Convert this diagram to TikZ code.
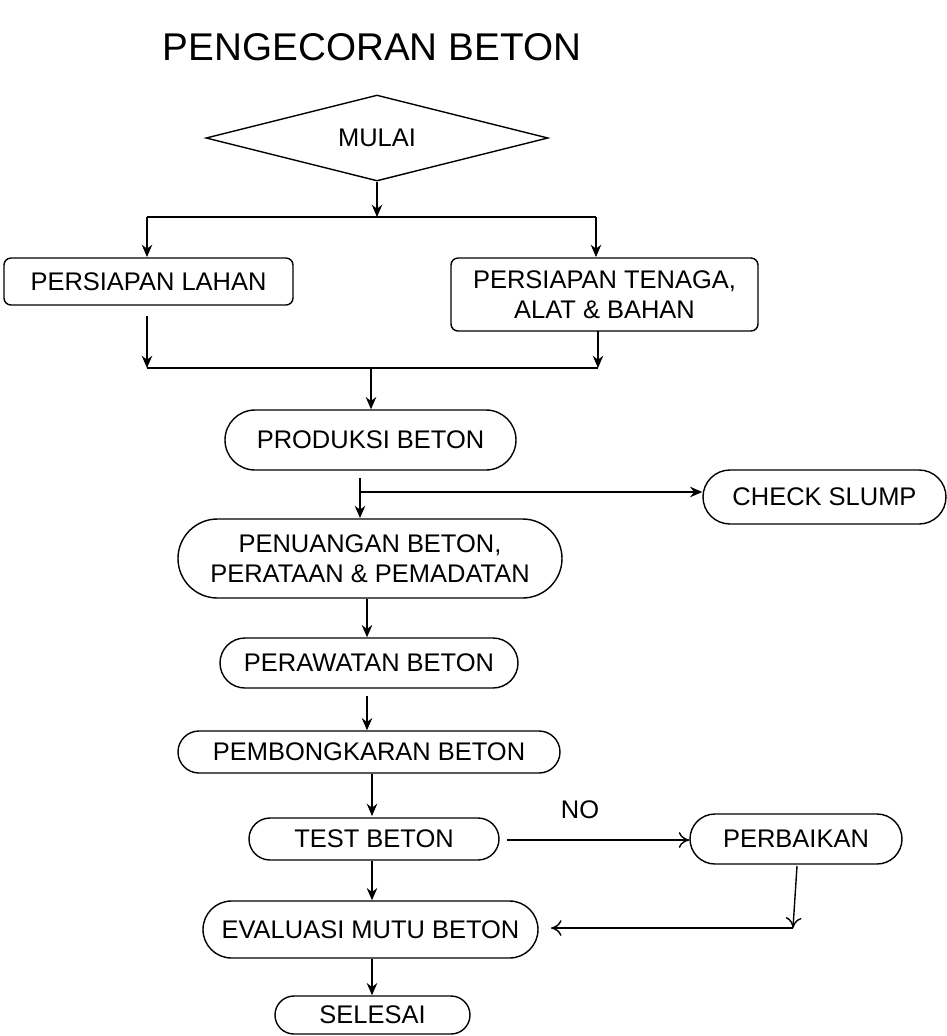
\documentclass[tikz,border=0pt]{standalone}
\usepackage{fontspec}
\setmainfont{Liberation Sans}
\usetikzlibrary{shapes.geometric,arrows.meta}
\begin{document}
\begin{tikzpicture}[x=0.02cm,y=-0.02cm,
  every node/.style={font=\fontsize{14.5}{17}\selectfont, align=center, inner sep=0pt},
  box/.style={draw, thick, rounded corners=4pt},
  stad/.style={draw, thick, rounded corners=#1},
  arr/.style={thick,-{Stealth[length=7pt,width=6pt]}},
  oarr/.style={thick,-{To[length=6pt,width=9pt]}},
  ln/.style={thick}]
\useasboundingbox (0,0) rectangle (947,1036);
\node (title) at (372,47) {\fontsize{22}{26}\selectfont PENGECORAN BETON};
\node[draw,thick,diamond,aspect=4,minimum width=342*0.02cm,minimum height=86*0.02cm] (mulai) at (377,138) {MULAI};
\node[box,minimum width=289*0.02cm,minimum height=47*0.02cm] (lahan) at (148.5,281.5) {PERSIAPAN LAHAN};
\node[box,minimum width=307*0.02cm,minimum height=73*0.02cm] (tenaga) at (604.5,294.5) {PERSIAPAN TENAGA,\\ALAT \& BAHAN};
\node[stad=0.6cm,minimum width=291*0.02cm,minimum height=60*0.02cm] (prod) at (370.5,440) {PRODUKSI BETON};
\node[stad=0.54cm,minimum width=243*0.02cm,minimum height=54*0.02cm] (slump) at (824.5,497) {CHECK SLUMP};
\node[stad=0.79cm,minimum width=384*0.02cm,minimum height=79*0.02cm] (tuang) at (370,558.5) {PENUANGAN BETON,\\PERATAAN \& PEMADATAN};
\node[stad=0.5cm,minimum width=298*0.02cm,minimum height=50*0.02cm] (rawat) at (369,663) {PERAWATAN BETON};
\node[stad=0.42cm,minimum width=382*0.02cm,minimum height=42*0.02cm] (bongkar) at (369,752) {PEMBONGKARAN BETON};
\node[stad=0.42cm,minimum width=250*0.02cm,minimum height=42*0.02cm] (test) at (374,839) {TEST BETON};
\node[stad=0.5cm,minimum width=212*0.02cm,minimum height=50*0.02cm] (perbaikan) at (796,839) {PERBAIKAN};
\node[stad=0.57cm,minimum width=335*0.02cm,minimum height=57*0.02cm] (eval) at (370.5,929.5) {EVALUASI MUTU BETON};
\node[stad=0.38cm,minimum width=195*0.02cm,minimum height=38*0.02cm] (selesai) at (372.5,1015) {SELESAI};
\node (no) at (580,810) {NO};
% connectors
\coordinate (s1) at (377,217);
\coordinate (sl) at (147,217);
\coordinate (sr) at (596,217);
\draw[arr] (mulai.south) -- (s1);
\draw[ln] (sl) -- (sr);
\draw[arr] (sl) -- (147,257);
\draw[arr] (sr) -- (596,257);
\coordinate (jl) at (147,368);
\coordinate (jr) at (598,368);
\coordinate (jm) at (371,368);
\draw[arr] (147,316) -- (jl);
\draw[arr] (598,331) -- (jr);
\draw[ln] (jl) -- (jr);
\draw[arr] (jm) -- (prod.north -| jm);
\coordinate (b1) at (360,478);
\coordinate (b2) at (360,492);
\draw[arr] (b1) -- (360,518);
\draw[arr] (b2) -- (slump.west |- b2);
\draw[arr] (tuang.south -| 367,0) -- (rawat.north -| 367,0);
\draw[arr] (367,696) -- (bongkar.north -| 367,0);
\draw[arr] (bongkar.south -| 372,0) -- (372,816);
\draw[oarr] (507,840) -- (perbaikan.west |- 0,840);
\coordinate (pc) at (793,928);
\draw[oarr] (797,866) -- (pc);
\draw[oarr] (pc) -- (551,928);
\draw[arr] (test.south -| 372,0) -- (eval.north -| 372,0);
\draw[arr] (eval.south -| 372,0) -- (selesai.north -| 372,0);
\end{tikzpicture}
\end{document}
